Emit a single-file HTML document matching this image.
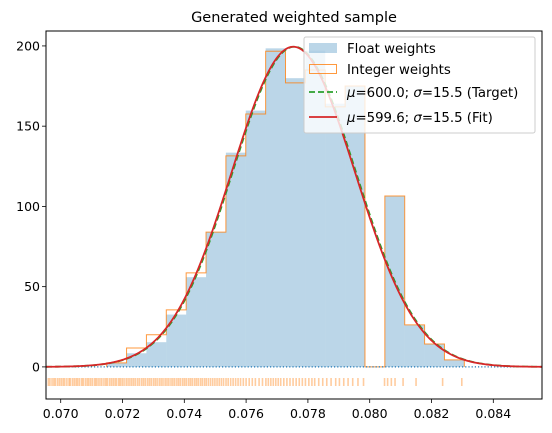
<!DOCTYPE html>
<html><head><meta charset="utf-8"><style>
html,body{margin:0;padding:0;background:#fff}
svg{display:block;font-family:"DejaVu Sans","Liberation Sans",sans-serif}
</style></head><body>
<svg id="chart" width="552" height="433" viewBox="0 0 552 433" xmlns="http://www.w3.org/2000/svg"></svg>
<script>
const binStart = 0.071488;
const binWidth = 0.000643;
const floatHeights = [2.5, 8.5, 15.4, 32.6, 55.9, 84, 133.5, 159.7, 198.5, 179.9, 197, 164, 175, 0, 106.5, 26, 14.3, 4.4];
const intHeights = [2.5, 11.8, 20, 35.5, 58.6, 84, 131.5, 157.6, 196.7, 177, 185, 162, 175, 0, 106.5, 26.2, 14.3, 4.4];
const fitParams = [0.077528, 0.002002, 199.5];
const targetParams = [0.077560, 0.002002, 199.5];
const xTicks = [0.070, 0.072, 0.074, 0.076, 0.078, 0.080, 0.082, 0.084];
const xTickLabels = ["0.070","0.072","0.074","0.076","0.078","0.080","0.082","0.084"];
const yTicks = [0, 50, 100, 150, 200];
const yTickLabels = ["0","50","100","150","200"];
const rugValues = [0.06960,0.06965,0.06972,0.06978,0.06983,0.06990,0.06996,0.07002,0.07008,0.07013,0.07020,0.07027,0.07031,0.07038,0.07044,0.07050,0.07055,0.07061,0.07068,0.07073,0.07080,0.07086,0.07091,0.07097,0.07103,0.07110,0.07115,0.07121,0.07127,0.07133,0.07140,0.07146,0.07151,0.07158,0.07164,0.07170,0.07176,0.07181,0.07188,0.07193,0.07199,0.07205,0.07212,0.07218,0.07224,0.07230,0.07236,0.07242,0.07249,0.07255,0.07262,0.07268,0.07274,0.07281,0.07287,0.07293,0.07300,0.07306,0.07312,0.07319,0.07325,0.07331,0.07338,0.07344,0.07350,0.07357,0.07363,0.07369,0.07376,0.07382,0.07388,0.07395,0.07401,0.07407,0.07414,0.07420,0.07426,0.07433,0.07439,0.07445,0.07452,0.07458,0.07465,0.07471,0.07478,0.07485,0.07492,0.07499,0.07506,0.07513,0.07520,0.07527,0.07535,0.07542,0.07550,0.07558,0.07566,0.07574,0.07582,0.07591,0.07600,0.07610,0.07620,0.07630,0.07642,0.07653,0.07664,0.07672,0.07680,0.07688,0.07696,0.07704,0.07712,0.07722,0.07732,0.07742,0.07752,0.07762,0.07772,0.07782,0.07792,0.07803,0.07813,0.07822,0.07835,0.07848,0.07861,0.07875,0.07890,0.07902,0.07916,0.07930,0.07945,0.07962,0.07980,0.08048,0.08058,0.08070,0.08082,0.08108,0.08150,0.08236,0.08298];

const svg = document.getElementById('chart');
const NS = 'http://www.w3.org/2000/svg';
const L = 46, R = 542, T = 31, B = 399;
const xMin = 0.069524, xMax = 0.085576, yMin = -20.0, yMax = 209.3;
const sx = v => L + (v - xMin) / (xMax - xMin) * (R - L);
const sy = v => B - (v - yMin) / (yMax - yMin) * (B - T);
function mk(tag, attrs, parent) {
  const e = document.createElementNS(NS, tag);
  for (const k in attrs) e.setAttribute(k, attrs[k]);
  (parent || svg).appendChild(e);
  return e;
}
const clip = mk('clipPath', {id: 'plotclip'});
mk('rect', {x: L, y: T, width: R - L, height: B - T}, clip);
const plot = mk('g', {'clip-path': 'url(#plotclip)'});



floatHeights.forEach((h, i) => {
  const x0 = sx(binStart + i * binWidth), x1 = sx(binStart + (i + 1) * binWidth);
  const r = mk('rect', {x: x0, y: sy(h), width: x1 - x0, height: sy(0) - sy(h), fill: '#1f77b4', 'fill-opacity': 0.3}, plot);
  
  
});
let d = `M${sx(binStart)},${sy(0)}`;
intHeights.forEach((h, i) => {
  d += ` L${sx(binStart + i * binWidth)},${sy(h)} L${sx(binStart + (i + 1) * binWidth)},${sy(h)}`;
});
d += ` L${sx(binStart + intHeights.length * binWidth)},${sy(0)}`;
const step = mk('path', {d: d, fill: 'none', stroke: '#ff7f0e', 'stroke-width': 1, 'stroke-opacity': 0.8}, plot);


const zl = mk('line', {x1: L, x2: R, y1: sy(0), y2: sy(0), stroke: '#1f77b4', 'stroke-width': 1.2, 'stroke-dasharray': '1.2,2'}, plot);


rugValues.forEach(v => {
  const t = mk('line', {x1: sx(v), x2: sx(v), y1: 378, y2: 386, stroke: '#ff7f0e', 'stroke-width': 1.6, 'stroke-opacity': 0.4}, plot);
  
  
});
function gauss(p) {
  let s = '';
  for (let i = 0; i <= 300; i++) {
    const x = xMin + (xMax - xMin) * i / 300;
    const y = p[2] * Math.exp(-0.5 * ((x - p[0]) / p[1]) ** 2);
    s += (i ? ' L' : 'M') + sx(x).toFixed(2) + ',' + sy(y).toFixed(2);
  }
  return s;
}
const tc = mk('path', {d: gauss(targetParams), fill: 'none', stroke: '#2ca02c', 'stroke-width': 1.8, 'stroke-dasharray': '6,3'}, plot);


const fc = mk('path', {d: gauss(fitParams), fill: 'none', stroke: '#d62728', 'stroke-width': 1.8}, plot);



xTicks.forEach((v, i) => {
  const g = mk('g', {});
  
  
  mk('line', {x1: sx(v), x2: sx(v), y1: B, y2: B + 4, stroke: '#000', 'stroke-width': 0.8}, g);
  const t = mk('text', {x: sx(v), y: 418, 'font-size': 12.5, 'text-anchor': 'middle', fill: '#000'}, g);
  t.textContent = xTickLabels[i];
});
yTicks.forEach((v, i) => {
  const g = mk('g', {});
  
  
  mk('line', {x1: L - 4, x2: L, y1: sy(v), y2: sy(v), stroke: '#000', 'stroke-width': 0.8}, g);
  const t = mk('text', {x: L - 6, y: sy(v) + 4.5, 'font-size': 12.5, 'text-anchor': 'end', fill: '#000'}, g);
  t.textContent = yTickLabels[i];
});
const frame = mk('rect', {x: L, y: T, width: R - L, height: B - T, fill: 'none', stroke: '#000', 'stroke-width': 1});


</script>
<svg style="position:absolute;left:0;top:0" width="552" height="433">
  <text x="294" y="22" font-size="14.5" text-anchor="middle" font-family="DejaVu Sans, Liberation Sans, sans-serif">Generated weighted sample</text>
  <g font-family="DejaVu Sans, Liberation Sans, sans-serif" font-size="13.3">
    <rect x="304" y="37" width="231" height="96" rx="2" fill="#fff" fill-opacity="0.8" stroke="#ccc" stroke-width="1"/>
    <g>
      <rect x="309" y="43" width="28" height="10" fill="#1f77b4" fill-opacity="0.3"/>
      <text x="347" y="53">Float weights</text>
    </g>
    <g>
      <rect x="309.5" y="64.5" width="27" height="9" fill="none" stroke="#ff7f0e" stroke-opacity="0.8"/>
      <text x="347" y="74">Integer weights</text>
    </g>
    <g>
      <line x1="309" x2="337" y1="92" y2="92" stroke="#2ca02c" stroke-width="1.8" stroke-dasharray="6,3"/>
      <text x="347" y="97"><tspan font-style="italic">μ</tspan>=600.0; <tspan font-style="italic">σ</tspan>=15.5 (Target)</text>
    </g>
    <g>
      <line x1="309" x2="337" y1="117" y2="117" stroke="#d62728" stroke-width="1.8"/>
      <text x="347" y="122"><tspan font-style="italic">μ</tspan>=599.6; <tspan font-style="italic">σ</tspan>=15.5 (Fit)</text>
    </g>
  </g>
</svg>
</body></html>
